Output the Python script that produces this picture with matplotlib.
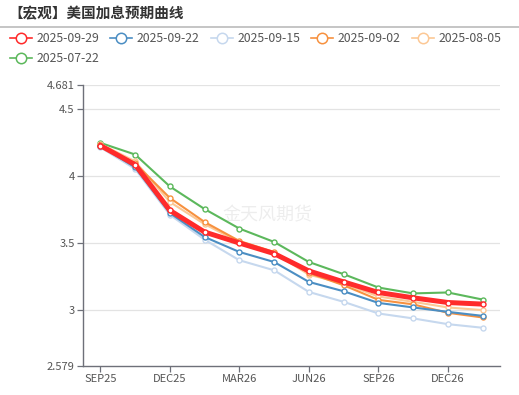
import matplotlib
matplotlib.use("Agg")
import matplotlib.pyplot as plt
from matplotlib.lines import Line2D

plt.rcParams['font.family'] = ['Noto Sans CJK SC', 'DejaVu Sans']

title = "【宏观】美国加息预期曲线"
months = ["SEP25", "OCT25", "DEC25", "JAN26", "MAR26", "APR26",
          "JUN26", "JUL26", "SEP26", "OCT26", "DEC26", "JAN27"]
series_names = ["2025-09-29", "2025-09-22", "2025-09-15", "2025-09-02", "2025-08-05", "2025-07-22"]
s_0929 = [4.228, 4.085, 3.743, 3.581, 3.499, 3.420, 3.290, 3.208, 3.129, 3.089, 3.054, 3.042]
s_0922 = [4.225, 4.065, 3.723, 3.544, 3.432, 3.357, 3.208, 3.138, 3.051, 3.017, 2.984, 2.954]
s_0915 = [4.215, 4.053, 3.710, 3.524, 3.370, 3.295, 3.133, 3.059, 2.972, 2.935, 2.892, 2.865]
s_0902 = [4.235, 4.094, 3.836, 3.656, 3.514, 3.432, 3.275, 3.183, 3.074, 3.040, 2.977, 2.942]
s_0805 = [4.240, 4.110, 3.806, 3.640, 3.505, 3.425, 3.262, 3.196, 3.099, 3.059, 3.017, 2.997]
s_0722 = [4.248, 4.161, 3.922, 3.753, 3.607, 3.507, 3.357, 3.266, 3.166, 3.122, 3.129, 3.076]
y_min, y_max = 2.579, 4.681
y_ticks = [2.579, 3, 3.5, 4, 4.5, 4.681]
y_labels = ["2.579", "3", "3.5", "4", "4.5", "4.681"]

colors = ["#ff2b2b", "#4b8ec3", "#c6d8ee", "#f7913f", "#fcc895", "#5cb85c"]
widths = [3.6, 1.5, 1.5, 1.5, 1.5, 1.5]
data = [s_0929, s_0922, s_0915, s_0902, s_0805, s_0722]

fig = plt.figure(figsize=(5.19, 3.95), dpi=100)
ax = fig.add_axes([83/519, 1-366/395, (500-83)/519, (366-85)/395])

x = list(range(len(months)))
order = [5, 4, 3, 2, 1, 0]
for i in order:
    ax.plot(x, data[i], color=colors[i], lw=widths[i], marker='o', ms=3.6,
            mfc='white', mec=colors[i], mew=1.0, zorder=3 + (6 - i))

ax.set_xlim(-0.5, len(months) - 0.5)
ax.set_ylim(y_min, y_max)
ax.set_yticks(y_ticks)
ax.set_yticklabels(y_labels)
ax.set_xticks(x[::2])
ax.set_xticklabels(months[::2])
for g in [3, 3.5, 4, 4.5, 4.681]:
    ax.axhline(g, color="#e3e3e3", lw=0.9, zorder=0)

for s in ['top', 'right']:
    ax.spines[s].set_visible(False)
for s in ['left', 'bottom']:
    ax.spines[s].set_color('#6e7079')
    ax.spines[s].set_linewidth(1)
ax.tick_params(axis='both', colors='#6e7079', labelcolor='#555555', labelsize=8,
               length=4, width=0.9, pad=2)

ax.text((222-83)/417, 1-(215-85)/281, "金天风期货", transform=ax.transAxes, fontsize=13,
        color='#000000', alpha=0.07, ha='left', va='center', zorder=1)

fig.text(8/519, 1-13/395, title, fontsize=10.5, fontweight='bold', color='#333333',
         ha='left', va='center')
fig.add_artist(Line2D([0, 1], [1-27/395, 1-27/395], color='#bbbbbb', lw=1.2))

leg_pos = [(10, 38), (110, 38), (211, 38), (311, 38), (412, 38), (10, 58)]
for i, (px, py) in enumerate(leg_pos):
    yy = 1 - py/395
    fig.add_artist(Line2D([px/519, (px+22)/519], [yy, yy], color=colors[i], lw=1.2))
    fig.add_artist(Line2D([(px+11)/519], [yy], marker='o', ms=7.5, mfc='white',
                          mec=colors[i], mew=1.1, color=colors[i]))
    fig.text((px+27)/519, yy, series_names[i], fontsize=8.8, color='#555555',
             ha='left', va='center')

fig.savefig("out.png", dpi=100)
